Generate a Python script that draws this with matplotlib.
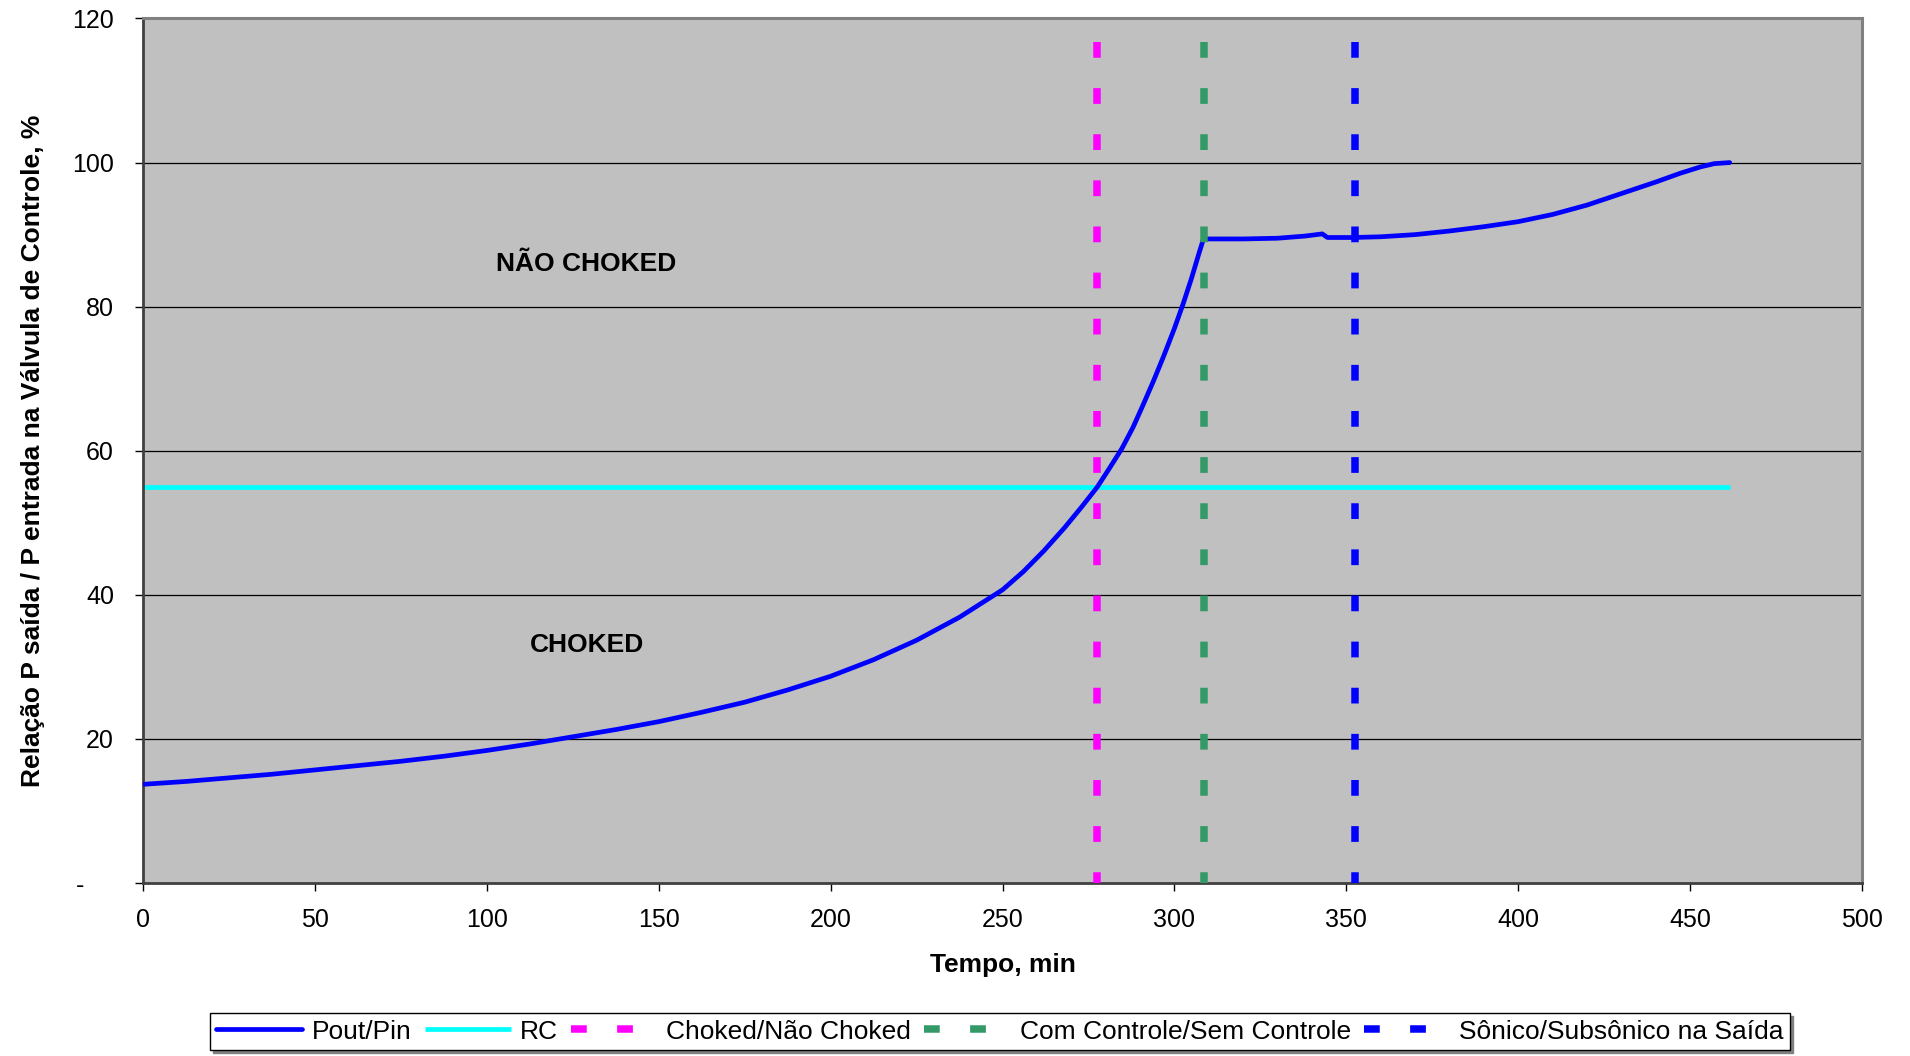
import matplotlib
matplotlib.use("Agg")
import matplotlib.pyplot as plt
import matplotlib.transforms as mtransforms
import numpy as np

plt.rcParams['font.family'] = ['Liberation Sans', 'DejaVu Sans']

# ---- data ----
tempo = [0, 12.5, 25, 37.5, 50, 62.5, 75, 87.5, 100, 112.5, 125, 137.5, 150,
         162.5, 175, 187.5, 200, 212.5, 225, 237.5, 250, 256, 262, 268, 273,
         277.6, 281, 284.7, 288, 291, 294, 297, 300, 302.6, 305, 307, 308.5,
         309.5, 320, 330, 338, 343, 344.5, 352, 360, 370, 380, 390, 400, 410,
         420, 430, 440, 447, 453, 457, 461.5]
pout_pin = [13.7, 14.1, 14.6, 15.1, 15.7, 16.3, 16.9, 17.6, 18.4, 19.3, 20.3,
            21.3, 22.4, 23.7, 25.1, 26.8, 28.7, 31.0, 33.7, 36.9, 40.7, 43.2,
            46.1, 49.3, 52.2, 55.0, 57.5, 60.3, 63.3, 66.5, 69.8, 73.3, 77.0,
            80.5, 84.0, 87.2, 89.5, 89.4, 89.4, 89.5, 89.8, 90.1, 89.6, 89.6,
            89.7, 90.0, 90.5, 91.1, 91.8, 92.8, 94.1, 95.7, 97.3, 98.5, 99.4,
            99.85, 100.0]
rc_x = [0, 461.5]
rc_y = [55, 55]

vline_names = ['Choked/Não Choked', 'Com Controle/Sem Controle', 'Sônico/Subsônico na Saída']
vline_x = [277.6, 308.5, 352.5]
vline_y = [116.8, 0]

x_ticks = [0, 50, 100, 150, 200, 250, 300, 350, 400, 450, 500]
y_ticks = [0, 20, 40, 60, 80, 100, 120]
y_tick_labels = ['-', '20', '40', '60', '80', '100', '120']

region_labels = ['NÃO CHOKED', 'CHOKED']
region_x = [129, 129]
region_y = [84.9, 32.1]

# ---- figure ----
fig = plt.figure(figsize=(19.10, 10.56), dpi=100)
ax = fig.add_axes([0.0749, 0.1638, 0.9000, 0.8187])
ax.set_facecolor('#C0C0C0')

for yv in y_ticks[1:-1]:
    ax.axhline(yv, color='#000000', lw=0.9, zorder=1)

vcolors = ['#FF00FF', '#339966', '#0000FF']
ax.plot(tempo, pout_pin, color='#0000FF', lw=3.4, solid_capstyle='round',
        solid_joinstyle='round', label='Pout/Pin', zorder=3)
ax.plot(rc_x, rc_y, color='#00FFFF', lw=3.4, solid_capstyle='butt', label='RC', zorder=2)
for xv, c, name in zip(vline_x, vcolors, vline_names):
    ax.plot([xv, xv], vline_y, color=c, lw=5.4, linestyle=(0, (2.1, 4.05)),
            dash_capstyle='butt', label=name, zorder=4)

for txt, xv, yv in zip(region_labels, region_x, region_y):
    ax.text(xv, yv, txt, ha='center', va='baseline', fontsize=19, fontweight='bold')

ax.set_xlim(0, 500)
ax.set_ylim(0, 120)
ax.set_xticks(x_ticks)
ax.set_xticklabels([str(v) for v in x_ticks])
ax.set_yticks(y_ticks)
ax.set_yticklabels(y_tick_labels)
ax.tick_params(axis='both', direction='out', length=6, width=1, color='#000000',
               labelsize=18)
ax.tick_params(axis='x', pad=12)
ax.tick_params(axis='y', pad=15)

# shift the "-" zero label left
lab0 = ax.get_yticklabels()[0]
lab0.set_transform(lab0.get_transform() + mtransforms.ScaledTranslation(-0.30, 0, fig.dpi_scale_trans))

for side in ['top', 'right']:
    ax.spines[side].set_color('#808080')
    ax.spines[side].set_linewidth(2.2)
for side in ['left', 'bottom']:
    ax.spines[side].set_color('#404040')
    ax.spines[side].set_linewidth(2.0)

ax.set_xlabel('Tempo, min', fontsize=19, fontweight='bold')
ax.xaxis.set_label_coords(0.5, -0.081)
ax.xaxis.label.set_va('top')
ax.set_ylabel('Relação P saída / P entrada na Válvula de Controle, %', fontsize=19,
              fontweight='bold')
ax.yaxis.set_label_coords(-0.064, 0.5)
ax.yaxis.label.set_va('center')

leg = fig.legend(loc='center', bbox_to_anchor=(0.5236, 0.0232), ncol=5, fontsize=19,
                 frameon=True, fancybox=False, handlelength=3.26, handletextpad=0.35,
                 columnspacing=0.5, borderpad=0.25, borderaxespad=0,
                 shadow={'color': '#808080', 'alpha': 1})
leg.get_frame().set_edgecolor('#000000')
leg.get_frame().set_linewidth(1.0)
leg.get_frame().set_facecolor('#FFFFFF')

fig.savefig('out.png', dpi=100)
